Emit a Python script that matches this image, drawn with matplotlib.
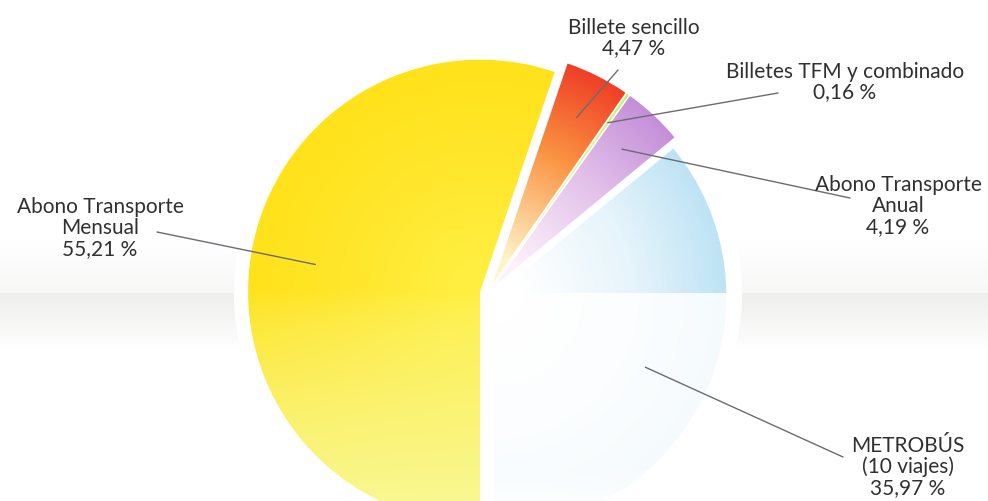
import numpy as np
import matplotlib
matplotlib.use("Agg")
import matplotlib.pyplot as plt
from matplotlib.colors import to_rgb
from matplotlib.patches import Circle

# --- data -----------------------------------------------------------------
categories = ["METROBÚS\n(10 viajes)", "Abono Transporte\nAnual",
              "Billetes TFM y combinado", "Billete sencillo",
              "Abono Transporte\nMensual"]
shares = [35.97, 4.19, 0.16, 4.47, 55.21]
share_labels = ["35,97 %", "4,19 %", "0,16 %", "4,47 %", "55,21 %"]

# --- styling --------------------------------------------------------------
outer_colors = ["#bde3f5", "#c48ed8", "#c4f06c", "#ef3e26", "#ffe21a"]
mid_colors = ["#e6f4fb", "#e2c0ea", "#dcf7a8", "#fa9442", "#ffe62a"]
inner_colors = ["#ffffff", "#fdf2fb", "#f7fde6", "#fff3c8", "#ffee40"]
fade_colors = ["#ffffff", "#ffffff", "#ffffff", "#ffffff", "#f7ffb8"]
fade_strength = [0.95, 0.6, 0.6, 0.6, 0.75]
explode = [7, 11, 11, 11, 8]

W, H = 988, 501
cx, cy = 488, 293          # pie centre (pixels from top-left)
R = 232

label_xy = [(908, 467), (898, 206), (845, 82), (634, 38), (100, 228)]
leader_start = [(843, 457), (850, 198), (778, 93), (618, 70), (157, 232)]
leader_frac = [0.72, 0.8, 0.85, 0.8, 0.72]

fig = plt.figure(figsize=(W / 100, H / 100), dpi=100)
ax = fig.add_axes([0, 0, 1, 1])


def fy(y):
    return H - y


# background: white with a soft grey horizon band
yy = np.arange(H)[:, None] + np.zeros((1, W))
bg = np.ones((H, W, 3))
shade = np.zeros_like(yy)
up = (yy > 240) & (yy < 293)
shade[up] = 0.03 * (yy[up] - 240) / 53
band = yy >= 293
shade[band] = 0.065 * np.clip(1 - (yy[band] - 293) / 55, 0, 1) ** 0.8
bg -= shade[..., None] * np.array([1.0, 0.95, 1.05])
ax.imshow(np.clip(bg, 0, 1), extent=(0, W, 0, H), origin="upper",
          zorder=0, interpolation="bilinear")

# white halo behind the pie
ax.add_patch(Circle((cx, fy(cy)), R + 22, facecolor="white",
                    edgecolor="none", zorder=1))

wedges, _ = ax.pie(shares, radius=R, center=(cx, fy(cy)), startangle=-90,
                   counterclock=True, explode=explode, frame=True,
                   wedgeprops=dict(linewidth=0, facecolor="none"))

X, Y = np.meshgrid(np.arange(W) + 0.5, np.arange(H) + 0.5)
for w, oc, mc, ic, fc, fs in zip(wedges, outer_colors, mid_colors,
                                 inner_colors, fade_colors, fade_strength):
    wx, wy = w.center
    r = np.hypot(X - wx, (H - Y) - wy) / R
    t = np.clip((r - 0.12) / 0.88, 0, 1)
    o, m, i = (np.array(to_rgb(c)) for c in (oc, mc, ic))
    t1 = np.clip(t / 0.55, 0, 1)[..., None]
    t2 = np.clip((t - 0.55) / 0.45, 0, 1)[..., None]
    col = np.where(t[..., None] < 0.55, i + (m - i) * t1, m + (o - m) * t2)
    # lower half washes out towards a pale tone
    a = np.zeros_like(Y)
    low = Y > cy
    a[low] = fs * np.clip((Y[low] - cy) / (H - cy), 0, 1) ** 0.7
    if fs > 0.9:
        a[low] = np.maximum(a[low], 0.85)
    f = np.array(to_rgb(fc))
    col = col * (1 - a[..., None]) + f * a[..., None]
    im = ax.imshow(col, extent=(0, W, 0, H), origin="upper", zorder=2,
                   interpolation="bilinear")
    im.set_clip_path(w)

# labels and leader lines
for k, (lab, pct) in enumerate(zip(categories, share_labels)):
    w = wedges[k]
    mid = np.deg2rad((w.theta1 + w.theta2) / 2)
    px = w.center[0] + leader_frac[k] * R * np.cos(mid)
    py = w.center[1] + leader_frac[k] * R * np.sin(mid)
    sx, sy = leader_start[k]
    ax.plot([sx, px], [fy(sy), py], color="#6b6b73", lw=1.0, zorder=3,
            solid_capstyle="round")
    lx, ly = label_xy[k]
    ax.text(lx, fy(ly), f"{lab}\n{pct}", ha="center", va="center",
            fontsize=15, family="Lato", color="#303030", linespacing=1.05,
            zorder=4)

ax.set_xlim(0, W)
ax.set_ylim(0, H)
ax.set_aspect("auto")
ax.axis("off")
fig.savefig("out.png", dpi=100)
